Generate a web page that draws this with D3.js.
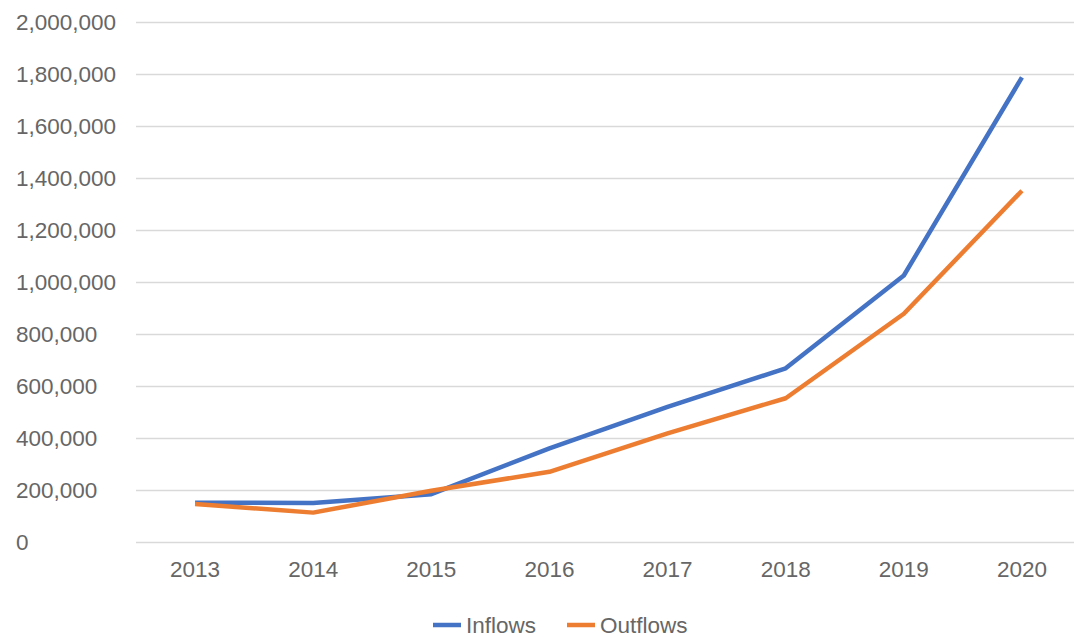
<!DOCTYPE html>
<html>
<head>
<meta charset="utf-8">
<script src="https://cdn.jsdelivr.net/npm/d3@7"></script>
<style>
  html, body { margin: 0; padding: 0; background: #ffffff; }
  svg { display: block; font-family: "Liberation Sans", Arial, sans-serif; }
</style>
</head>
<body>
<svg id="chart" width="1074" height="638"></svg>
<script>
// Yearly flows
const years = ["2013", "2014", "2015", "2016", "2017", "2018", "2019", "2020"];
const inflows = [151000, 150000, 184000, 360000, 520000, 668000, 1025000, 1787000];
const outflows = [146000, 113000, 197000, 270000, 418000, 553000, 878000, 1351000];
const yTicks = [0, 200000, 400000, 600000, 800000, 1000000, 1200000, 1400000, 1600000, 1800000, 2000000];
const seriesNames = ["Inflows", "Outflows"];
const seriesColors = ["#4472C4", "#ED7D31"];

const svg = d3.select("#chart");
const textColor = "#666666";
const gridColor = "#d9d9d9";
const fontSize = 22.5;

const x = d3.scaleBand().domain(years).range([136, 1081]);
const cx = d => x(d) + x.bandwidth() / 2;
const y = d3.scaleLinear().domain([0, 2000000]).range([542, 22]);

// Horizontal gridlines
svg.append("g")
  .selectAll("line")
  .data(yTicks)
  .join("line")
  .attr("x1", 136)
  .attr("x2", 1081)
  .attr("y1", d => Math.round(y(d)) + 0.5)
  .attr("y2", d => Math.round(y(d)) + 0.5)
  .attr("stroke", gridColor)
  .attr("stroke-width", 1.5);

// Y-axis labels (left aligned)
const fmt = d3.format(",");
svg.append("g")
  .selectAll("text")
  .data(yTicks)
  .join("text")
  .attr("x", 16)
  .attr("y", d => y(d))
  .attr("dy", "0.35em")
  .attr("fill", textColor)
  .attr("font-size", fontSize)
  .text(d => fmt(d));

// X-axis labels
svg.append("g")
  .selectAll("text")
  .data(years)
  .join("text")
  .attr("x", d => cx(d))
  .attr("y", 569)
  .attr("dy", "0.35em")
  .attr("text-anchor", "middle")
  .attr("fill", textColor)
  .attr("font-size", fontSize)
  .text(d => d);

// Lines
const line = d3.line()
  .x((d, i) => cx(years[i]))
  .y(d => y(d));

[inflows, outflows].forEach((vals, i) => {
  svg.append("path")
    .datum(vals)
    .attr("d", line)
    .attr("fill", "none")
    .attr("stroke", seriesColors[i])
    .attr("stroke-width", 4.5)
    .attr("stroke-linejoin", "round")
    .attr("stroke-linecap", "butt");
});

// Legend
const legendItems = [
  { name: seriesNames[0], color: seriesColors[0], x0: 433 },
  { name: seriesNames[1], color: seriesColors[1], x0: 567 }
];
const legend = svg.append("g");
legendItems.forEach(it => {
  legend.append("line")
    .attr("x1", it.x0).attr("x2", it.x0 + 28)
    .attr("y1", 625).attr("y2", 625)
    .attr("stroke", it.color)
    .attr("stroke-width", 4.5);
  legend.append("text")
    .attr("x", it.x0 + 33)
    .attr("y", 625)
    .attr("dy", "0.35em")
    .attr("fill", textColor)
    .attr("font-size", fontSize)
    .text(it.name);
});
</script>
</body>
</html>
